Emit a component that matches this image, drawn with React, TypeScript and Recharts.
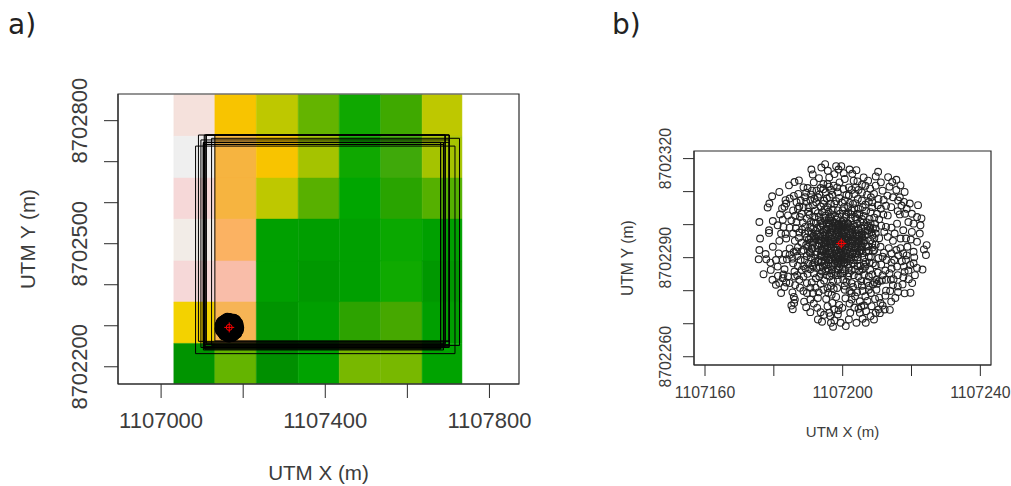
import { ScatterChart, Scatter, XAxis, YAxis, ReferenceArea } from "recharts";

const INK = "#2b2b2b";
const LABEL = "#3c3c3c";

// panel a: image raster
const cellXEdges = [1107031, 1107131, 1107232, 1107334, 1107434, 1107535, 1107636, 1107733];
const cellYEdges = [8702863, 8702762, 8702660, 8702560, 8702458, 8702358, 8702257, 8702159];
const cellColors = [
  ["#f5e1dc", "#f8c400", "#bec800", "#64b400", "#0fa800", "#3fa900", "#bec800"],
  ["#efefef", "#f6b440", "#f8c400", "#a5c300", "#0fa800", "#3fa90a", "#a5c300"],
  ["#f6d8d8", "#f6b440", "#bec800", "#58b000", "#00a600", "#29a400", "#55b000"],
  ["#f2ece7", "#fbb262", "#00a000", "#009e00", "#00a000", "#0aa800", "#00a000"],
  ["#f6d8d8", "#f9bda9", "#009f00", "#009800", "#009f00", "#0faa00", "#009800"],
  ["#f3d200", "#f6b455", "#009400", "#009f00", "#2da300", "#46a800", "#009f00"],
  ["#009400", "#64b400", "#008f00", "#00a300", "#78b800", "#78b800", "#00a300"],
];

// panel a: sampling windows
const windowLeft = [1107084, 1107091, 1107103, 1107107, 1107097, 1107123, 1107105, 1107110, 1107103, 1107131, 1107103, 1107105, 1107107, 1107110, 1107105, 1107103];
const windowRight = [1107716, 1107702, 1107688, 1107692, 1107702, 1107727, 1107681, 1107692, 1107688, 1107702, 1107681, 1107702, 1107681, 1107692, 1107702, 1107688];
const windowTop = [8702738, 8702765, 8702747, 8702765, 8702753, 8702757, 8702742, 8702765, 8702742, 8702765, 8702747, 8702765, 8702747, 8702765, 8702747, 8702742];
const windowBottom = [8702232, 8702262, 8702241, 8702250, 8702247, 8702252, 8702244, 8702258, 8702255, 8702263, 8702260, 8702254, 8702243, 8702256, 8702249, 8702246];

// offsets in metres from the centre point
const outerRing = [
  [-23.8,6.5],[-23.6,1.5],[-23.8,-2],[-24,-4.8],[-22.6,-9.3],[-22,-3.2],[-21.8,-4.8],[-20.6,-5.8],[-21,4],[-21,3.2],
  [-19.9,6.8],[-19.9,-1],[-21.4,10.9],[-20.9,12.1],[-20.1,14.3],[-18,15.6],[-17.2,10.6],[-16.5,11.1],[-16.2,13.1],[-16,12.1],
  [-15.2,17.6],[-13.6,18.6],[-12.3,19.1],[-8.7,22.4],[-8.3,20.9],[-5.8,23],[-4.7,24],[-3.9,22],[-1.5,23.4],[0,23.4],
  [-0.8,22.4],[0.7,21.3],[2.4,22.4],[4.4,22.2],[3.2,21.1],[10.7,21.7],[10,20.3],[13.6,20.1],[16,19.3],[17.2,17.6],
  [18.4,15.6],[19.9,12.1],[22.3,11.6],[23.3,7.6],[22.8,3],[24.8,-0.5],[24.6,-3.5],[23.6,-7.9],[21.4,-9.6],[20.1,-14.9],
  [18.4,-15.1],[14.1,-20.1],[11.2,-21.1],[5.8,-19.1],[7.1,-24],[4.4,-24],[1.3,-25],[-2.4,-25.2],[-6.8,-23],[-5.6,-23.7],
  [-10.2,-19.3],[-14.1,-19.9],[-14.5,-18.8],[-13.7,-18],[-17.5,-15],[-19,-12.5],[-20,-11],[-20.5,-8],[-3,-24],[-2,-23.3],
  [-3.2,-22],[-1,-21.5],[-5,-21.6],[-9,-20.8],[-8,-18.2],[6.2,-22.8],[8.5,-22],[9.5,-23],[10.8,-20],[12,-18.8],
  [14.5,-17.6],[15.7,-16.5],[16.5,-14.7],[-0.2,-24],[0.3,-19.5],[2.2,-23],[24,-1.8],[21,-2.5],[22,0.5],[20.2,1.2],
];
const upperLeft = [
  [-18.5,5.5],[-17,7.2],[-17.5,3],[-18,0.8],[-16,1.5],[-15,4.8],[-15.5,8.5],[-14,10],[-13,12.5],[-12.5,15],
  [-11,17],[-10.5,14],[-11.5,9],[-13,6.5],[-12.2,3.3],[-13.5,0.8],[-11.5,0.2],[-10.5,5],[-10,7.5],[-9.5,11],
  [-9,13.2],[-8.5,16],[-8,18.5],[-6.5,19.8],[-6,16.8],[-6.8,14],[-7.5,10],[-8,6.3],[-8.6,3],[-9.4,1.2],
  [-6.5,8],[-6,11.2],[-5,13],[-4.5,15.5],[-4,18],[-3.5,20],[-2,21],[-2.2,17.5],[-2.6,14.8],[-3,12],
  [-3.7,9.6],[-4.7,7],[-1.5,12.8],[-1,15.5],[-0.5,18.5],[-1,10],[-11,11],[-12,8],[-9.2,8.7],[-7.3,12.5],
  [-5.5,9.5],[-10.2,12.6],[-14.5,7],[-16.8,5],[-14,3],[-10.6,3],[-7,4.8],[-6.6,2.6],[-5.4,5.6],[-4,11],
  [-3.2,8],[-1.8,8.3],[-2.5,10.2],[-7.8,8],[-9,5],[-8.8,14.8],[-7.2,16],[-5.2,18],[-3,16.2],[-4.2,13.6],
  [-11.8,13],[-12.6,10.5],[-16.2,2.9],[-12.3,1.7],[-17.8,8.8],[-15,13.6],[-13.8,14.4],
  [-9.6,9.6],[-8.2,11.6],[-6.8,9.2],[-5.2,12],[-4.6,8.4],[-3.4,14],[-2,12],[-0.6,13.8],[-1.2,17],[-10.2,15.4],
  [-12.2,11.2],[-13.4,8.4],[-8.8,6.6],[-7.4,6.2],[-11.2,6.4],[-10,1.8],[-8.2,4.4],[-6.4,14.8],[-5.2,16.4],[-3.6,17.2],
  [-6,6.8],[-4.8,10.4],[-2.6,6.8],[-9.8,16.8],[-7.8,13.6],[-11.4,4.2],[-9.6,3.8],[-13.2,4.6],
];
const upperRight = [
  [1,19.5],[2.2,17],[1.5,14.7],[2.5,12.3],[3,10],[4,8],[5,10.5],[4.8,13.5],[5,16.2],[4.7,18.8],
  [6.5,20],[7,17.5],[7.5,14.8],[7,11.8],[6.5,8.3],[8.5,9.5],[9,12.5],[9.5,15],[10,17.5],[11.5,18.5],
  [12,16],[12.3,13.2],[11.5,10.5],[11,7.3],[13.5,8.5],[14.5,11],[15,14],[16,16.2],[17,14],[17.5,11.5],
  [17,8.8],[16.2,6],[18.5,9],[19.5,6.5],[20.5,9],[21,6],[18,4],[20.5,3.5],[15.5,3],[13,5],
  [10,4.5],[8.5,6],[13.5,2],[0.6,16.5],[3.8,15],[3.6,19],[6,15.4],[8.4,16.6],[10.8,13.5],[13.4,14.5],
  [14,17.2],[14.8,18.6],[18.2,12.6],[19,10.5],[9.6,7.8],[7.8,4],[5.5,6.6],[2.8,7.6],[1.4,8.7],[0.8,11],
  [1,13],[6,13],[9,11],[10.4,9],[12.5,3.5],[15,0.8],[17.2,1.5],[11,1.6],[9,2.4],[6.8,2.4],
  [22,8],[23,5.5],[18.8,1.5],[16.5,13],[3.4,12],[5.8,4.6],
  [2,9.4],[3.8,10.6],[5.2,8.8],[7.2,9.8],[8.2,7.4],[9.8,6],[8,12.6],[6.2,11],[4,12.2],[2.2,14.6],
  [0.4,10],[0.2,12.4],[3,16.2],[6,17.8],[8.6,14],[10.6,11.6],[10,3],[11.6,5.4],[7.4,6.4],[6.4,6.4],
  [9.2,4.6],[12.2,8.8],[13,11.4],[2,11],[4.2,17],[7.8,19],[14.6,4.8],[16.4,9.8],
];
const lowerLeft = [
  [-18.2,-3],[-17,-5],[-18.5,-7],[-16.5,-7.8],[-15,-3.4],[-15,-1.5],[-14,-6],[-13.6,-8.5],[-15.5,-10],[-17,-10.5],
  [-18,-12],[-16.5,-13.2],[-15,-12],[-14.2,-14.8],[-13.8,-16.2],[-13.5,-17],[-12.2,-11],[-11.5,-8],[-11.8,-5],[-11.6,-2.4],
  [-10,-3.8],[-9.6,-6.2],[-9.8,-9.2],[-10,-12],[-10,-15],[-9,-17],[-7,-19.5],[-6.8,-16.5],[-7.5,-13.4],[-7.4,-10.5],
  [-7.2,-7.4],[-8.4,-1.6],[-7,-2.5],[-6.6,-5],[-5.6,-8.5],[-5,-11.2],[-5.2,-14],[-4.4,-16.8],[-4,-19],[-3.5,-21],
  [-2.6,-18],[-2.8,-15.5],[-3,-12.8],[-3.4,-10],[-1.8,-8.6],[-1,-11],[-1.2,-13.5],[-1.5,-16.2],[-0.6,-18.6],[-12.8,-3.8],
  [-16.2,-3.2],[-12,-13.4],[-8.6,-11.8],[-8.2,-15],[-6,-20.8],[-10.8,-17.6],[-12.6,-6.8],[-8.8,-4.2],[-5,-6.2],[-4,-7.6],
  [-3,-6.8],[-13.4,-12.6],[-19,-5],[-16,-11.8],[-13.5,-10],[-0.8,-20.2],[-2,-20],[-6,-12.2],[-4,-13.5],[-15.8,-4.8],
  [-9,-7.8],[-8,-9],[-6.4,-10],[-4.2,-9.6],[-2.4,-11.4],[-9.2,-2.6],[-10.6,-5],[-11,-6.8],[-12.8,-9.6],[-11,-10],
  [-6.2,-7.2],[-3,-9],[-1,-9.6],[-7.8,-5.8],[-6,-9.2],[-2.2,-13.8],[-3.8,-15],[-6.6,-14.8],[-9,-13.4],[-11,-14.4],
  [-13,-2.4],[-14.2,-4.6],[-10.4,-7.6],[-8.4,-6.6],[-5.6,-3.8],[-4.6,-8.4],[-16.8,-9.4],[-18.4,-9.8],
];
const lowerRight = [
  [0.5,-9],[1.5,-11.6],[1,-14],[1.2,-16.6],[2.4,-18.2],[2.6,-21],[3.8,-19.4],[4,-16],[3.4,-13.2],[3.6,-9.6],
  [5.2,-8.4],[5.8,-11.4],[6.2,-14.4],[7.6,-17.4],[8.8,-19],[7.2,-20.5],[5.4,-21],[8,-12.8],[8,-10],[8.4,-8],
  [10,-6.6],[10.6,-8.8],[10.2,-11],[9.6,-11.8],[9.2,-12.4],[10.4,-12.2],[11,-11.4],[11.8,-11.2],[13,-11],[14.4,-11],
  [15.2,-10.8],[12.8,-8.2],[14.6,-7.6],[16.2,-7],[17.6,-5.4],[19,-3.6],[18.2,-7],[19.5,-8.2],[21,-6],[22,-7.4],
  [16.4,-9.6],[18,-10.2],[17.8,-12.4],[16.4,-13],[13,-14.3],[12.8,-15.8],[14.2,-14.4],[11,-16.4],[11.4,-18],[9.8,-16.8],
  [18.8,-5],[19.6,-10.8],[20.6,-12],[16.6,-3.6],[14.6,-3],[12.4,-2.8],[10.8,-4.4],[8.6,-4],[7,-5.6],[6.2,-3],
  [11.4,-1],[13.2,-5],[15.4,-5],[17.2,-1.4],[19.2,-1],[21.2,-4.2],[5.4,-17.5],[3,-15],[6.6,-18.8],[10,-21],
  [12.6,-20],[8.6,-15],[20,-6.5],[18.4,-8.6],[15,-12.6],[14,-9],
  [2,-10],[3,-12],[5,-10],[6.6,-9.4],[7,-7],[9.2,-6],[11.6,-6.4],[12,-4],[9.6,-2],[13.8,-1.4],
  [1,-12.8],[2.4,-14.4],[4.6,-14.8],[6,-12.8],[0.6,-11],[-0.2,-9],[7.4,-11.6],[9,-9.4],[12,-9.6],[14.6,-5.8],
  [16,-2],[18,-3],[3,-17],[5,-19.8],[8,-14],[7,-16],[4.8,-12.4],[10.2,-14],
];
const innerBand = [
  [-6,5],[-5.2,3.4],[-6.6,1],[-7,-0.6],[-5.6,-2],[-6,-3.6],[-4.8,-5],[-3.4,-5],[-2,-6.2],[-0.6,-7],
  [0.8,-6],[2.2,-7.4],[3.4,-6],[4.6,-5],[5.6,-6.8],[6.6,-4.2],[7.2,-2.6],[6,-1],[7.8,-0.8],[8.4,1],
  [6.8,1],[6,2.8],[7.6,2.8],[5,4.2],[4.6,6],[3.4,5.6],[2,6],[0.6,7],[-0.6,6],[-2,6.4],
  [-3.4,5.6],[-4.4,4.4],[-8,0.6],[-8.6,-1.6],[-7.6,-3.4],[-6.8,-5.6],[-5.4,-7],[-3.6,-8.2],[-1.6,-9.6],[0.4,-7.8],
  [2.2,-9],[4,-7.8],[6.2,-7.8],[8.2,-5.8],[9.2,-2.4],[10,-0.4],[9.6,1.6],[8.8,3.4],[6.8,5.4],[4.4,7.4],
  [1.4,8],[-1,7.8],[-3.2,7],[-5.6,6.2],[-9.6,-1],[-11,-2],[-10.2,-0.4],[-12.6,-1.2],[-13.8,-2.6],[-8.2,-7],
  [-7.6,2],[-8.8,1.6],[-7.4,3.8],[-5,7.8],[-2.8,8.8],[-0.4,9],[2.8,8.8],[4.6,9],[6,7.4],[7.6,5.2],
  [8.4,4.8],[9,0],[8,-2.2],[8,-4],[6.6,-6.4],[4.8,-6.8],[3,-8.2],[1,-8.4],[-1,-8],[-2.6,-7.8],
  [-4.4,-6.6],[-5.8,-5.6],[-7.6,-4.6],[-9,-3],[-9.2,0.2],[-8,2.2],[-3.6,7.6],[-1.4,7.2],[0.4,5.8],[-4.2,6],
];
const dark = [
  [0,0],[0.8,0.4],[-0.8,0.6],[0.4,-0.9],[-0.6,-0.8],[1.5,0.2],[-1.6,0],[0.2,1.6],[-0.2,-1.7],[1.3,1.2],
  [-1.2,1.3],[1.2,-1.3],[-1.4,-1.2],[2.4,0.6],[-2.4,0.5],[0.6,2.5],[-0.6,2.4],[0.5,-2.5],[-0.6,-2.6],[2.2,-1],
  [-2.2,-1.1],[2,1.8],[-2,1.9],[1.8,-2],[-1.8,-2.1],[3.2,0],[-3.2,0],[0,3.3],[0,-3.4],[3,1.3],
  [-3,1.4],[3,-1.4],[-3,-1.5],[1.4,3],[-1.4,3],[1.4,-3],[-1.4,-3.1],[2.6,2.5],[-2.6,2.6],[2.5,-2.6],
  [-2.6,-2.7],[4,0.6],[-4,0.7],[4,-0.8],[-4,-0.9],[0.7,4],[-0.8,4],[0.8,-4.1],[-0.8,-4.1],[3.6,2],
  [-3.6,2.2],[3.6,-2.2],[-3.6,-2.3],[2.1,3.7],[-2.2,3.6],[2.2,-3.7],[-2.3,-3.7],[3.2,3.2],[-3.1,3.3],[3.2,-3.2],
  [-3.2,-3.3],[4.9,0],[-4.9,0],[0,5],[0,-5],[4.7,1.4],[-4.7,1.5],[4.7,-1.5],[-4.7,-1.6],[1.5,4.8],
  [-1.5,4.7],[1.5,-4.8],[-1.6,-4.8],[4.2,2.8],[-4.2,2.8],[4.1,-2.9],[-4.2,-3],[2.9,4.2],[-2.9,4.2],[2.9,-4.2],
  [-3,-4.2],[5.6,0.7],[-5.6,0.8],[5.6,-0.8],[-5.7,-0.8],[0.8,5.7],[-0.8,5.6],[0.8,-5.7],[-0.9,-5.7],[5.2,2.3],
  [-5.2,2.4],[5.2,-2.4],[-5.3,-2.4],[2.4,5.2],[-2.4,5.2],[2.4,-5.2],[-2.5,-5.2],[4.2,4.2],[-4.1,4.1],[4,-4],
  [-4,-4],[6.5,0.2],[-6.4,0.1],[0.2,6.5],[-0.2,-6.4],[6,-2],[-6.1,-1.8],[1.9,6.1],[-1.9,-6.1],[6.1,1.8],
  [-6.1,2.2],[-1.9,6],[1.9,-6.2],[4.9,4],[-5,3.9],[4.8,-4.2],[-4.9,-4],[3.8,5],[-3.9,5],[3.7,-5],
  [-3.8,-5],[7.2,-1],[-7.4,1.4],[-7.2,2.8],[5.8,3.2],[7,3.8],[-3.4,6.3],[-8.4,-0.4],[-5.6,-5.4],[9,-1.2],
  [0.4,1],[-0.4,1.2],[1,-0.4],[-1,-0.3],[1.9,0.9],[-1.9,0.8],[0.9,1.9],[-0.9,2],[1,-2],[-1,-2],
  [2.8,0.2],[-2.8,-0.2],[0.2,2.8],[-0.2,-3],[3.4,0.8],[-3.4,0.8],[0.9,3.5],[-1,3.5],[1,-3.6],[-1,-3.6],
  [4.4,0],[-4.4,0],[0,4.4],[0,-4.5],[3.4,2.8],[-3.4,2.9],[3.4,-2.8],[-3.4,-2.9],[5.2,0.6],[-5.2,0.4],
  [0.5,5.2],[-0.5,5.1],[0.5,-5.2],[-0.5,-5.3],[4.7,2.8],[-4.7,2.8],[4.6,-3],[-4.7,-3],[2.9,4.8],[-2.9,4.8],
  [2.8,-4.8],[-2.9,-4.8],[6,1],[-6,0.8],[1,6],[-1,6],[1,-6],[-1,-6],[5.6,-2],[-5.7,-2.2],
];
const spread = [...outerRing, ...upperLeft, ...upperRight, ...lowerLeft, ...lowerRight, ...innerBand, ...dark];

const centreA = { x: 1107166, y: 8702296 };
const centreB = { x: 1107199.6, y: 8702294.3 };

const blobPoints = spread.map(([dx, dy]) => ({ x: centreA.x + dx, y: centreA.y + dy }));
const pointsB = spread.map(([dx, dy]) => ({ x: centreB.x + dx, y: centreB.y + dy }));

const xTicksA = [1107000, 1107200, 1107400, 1107600, 1107800];
const xLabelsA = [1107000, 1107400, 1107800];
const yTicksA = [8702200, 8702300, 8702400, 8702500, 8702600, 8702700, 8702800];
const yLabelsA = [8702200, 8702500, 8702800];

const xTicksB = [1107160, 1107180, 1107200, 1107220, 1107240];
const xLabelsB = [1107160, 1107200, 1107240];
const yTicksB = [8702260, 8702270, 8702280, 8702290, 8702300, 8702310, 8702320];
const yLabelsB = [8702260, 8702290, 8702320];

const FONT = "'Liberation Sans', Arial, sans-serif";

const xTick = (labels: number[], size: number, dy: number) => (p: any) =>
  labels.includes(p.payload.value) ? (
    <text x={p.x} y={p.y + dy} textAnchor="middle" fontSize={size} fontFamily={FONT} fill={LABEL}>
      {p.payload.value}
    </text>
  ) : (
    <g />
  );

const yTick = (labels: number[], size: number, dx: number) => (p: any) =>
  labels.includes(p.payload.value) ? (
    <text
      x={p.x - dx}
      y={p.y}
      textAnchor="middle"
      fontSize={size}
      fontFamily={FONT}
      fill={LABEL}
      transform={`rotate(-90 ${p.x - dx} ${p.y})`}
    >
      {p.payload.value}
    </text>
  ) : (
    <g />
  );

const ring = (r: number, w: number, color: string) => (p: any) =>
  <circle cx={p.cx} cy={p.cy} r={r} fill="none" stroke={color} strokeWidth={w} />;

const target = (p: any) => (
  <g stroke="#f00" fill="none" strokeWidth={1}>
    <circle cx={p.cx} cy={p.cy} r={3} />
    <line x1={p.cx - 5} x2={p.cx + 5} y1={p.cy} y2={p.cy} />
    <line x1={p.cx} x2={p.cx} y1={p.cy - 5} y2={p.cy + 5} />
  </g>
);

const domainXA = [1106895, 1107872];
const domainYA = [8702158, 8702865];
const domainXB = [1107156.8, 1107243.1];
const domainYB = [8702257.5, 8702322.3];

const heading = (text: string, left: number) => (
  <div
    style={{
      position: "absolute",
      left,
      top: 7,
      fontFamily: "'DejaVu Sans', sans-serif",
      fontSize: 28,
      lineHeight: "36px",
      color: "#222",
    }}
  >
    {text}
  </div>
);

export default function App() {
  return (
    <div style={{ position: "absolute", left: 0, top: 0, width: 1011, height: 486, background: "#fff", overflow: "hidden" }}>
      {heading("a)", 8)}
      {heading("b)", 612)}

      <div style={{ position: "absolute", left: 0, top: 0 }}>
        <ScatterChart width={560} height={486} margin={{ top: 94, right: 41, bottom: 2, left: 18 }}>
          <XAxis
            type="number"
            dataKey="x"
            domain={domainXA}
            ticks={xTicksA}
            interval={0}
            allowDataOverflow
            height={100}
            tickSize={14}
            stroke={INK}
            tick={xTick(xLabelsA, 22, 28)}
            label={{ value: "UTM X (m)", position: "insideBottom", offset: 4, fontSize: 20.6, fontFamily: FONT, fill: LABEL }}
          />
          <YAxis
            type="number"
            dataKey="y"
            domain={domainYA}
            ticks={yTicksA}
            interval={0}
            allowDataOverflow
            width={100}
            tickSize={14}
            stroke={INK}
            tick={yTick(yLabelsA, 22, 15)}
            label={{ value: "UTM Y (m)", angle: -90, position: "insideLeft", offset: 10, dy: 50, fontSize: 20.6, fontFamily: FONT, fill: LABEL }}
          />
          {cellColors.map((row, r) =>
            row.map((color, c) => (
              <ReferenceArea
                key={`${r}-${c}`}
                x1={cellXEdges[c]}
                x2={cellXEdges[c + 1]}
                y1={cellYEdges[r + 1]}
                y2={cellYEdges[r]}
                fill={color}
                fillOpacity={1}
                stroke={color}
                strokeWidth={0.5}
              />
            ))
          )}
          {windowLeft.map((left, i) => (
            <ReferenceArea
              key={i}
              x1={left}
              x2={windowRight[i]}
              y1={windowBottom[i]}
              y2={windowTop[i]}
              fill="none"
              stroke="#000"
              strokeWidth={1}
            />
          ))}
          <ReferenceArea x1={domainXA[0]} x2={domainXA[1]} y1={domainYA[0]} y2={domainYA[1]} fill="none" stroke={INK} strokeWidth={1.2} />
          <Scatter data={blobPoints} isAnimationActive={false} shape={ring(4, 1.6, "#000")} />
          <Scatter data={[centreA]} isAnimationActive={false} shape={target} />
        </ScatterChart>
      </div>

      <div style={{ position: "absolute", left: 580, top: 0 }}>
        <ScatterChart width={431} height={486} margin={{ top: 151, right: 20, bottom: 21, left: 14 }}>
          <XAxis
            type="number"
            dataKey="x"
            domain={domainXB}
            ticks={xTicksB}
            interval={0}
            allowDataOverflow
            height={100}
            tickSize={11}
            stroke={INK}
            tick={xTick(xLabelsB, 15.8, 20)}
            label={{ value: "UTM X (m)", position: "insideBottom", offset: 28, fontSize: 15, fontFamily: FONT, fill: LABEL }}
          />
          <YAxis
            type="number"
            dataKey="y"
            domain={domainYB}
            ticks={yTicksB}
            interval={0}
            allowDataOverflow
            width={100}
            tickSize={11}
            stroke={INK}
            tick={yTick(yLabelsB, 15.8, 10)}
            label={{ value: "UTM Y (m)", angle: -90, position: "insideLeft", offset: 33, dy: 38, fontSize: 15.6, fontFamily: FONT, fill: LABEL }}
          />
          <ReferenceArea x1={domainXB[0]} x2={domainXB[1]} y1={domainYB[0]} y2={domainYB[1]} fill="none" stroke={INK} strokeWidth={1.2} />
          <Scatter data={pointsB} isAnimationActive={false} shape={ring(3.4, 1.1, "#222")} />
          <Scatter data={[centreB]} isAnimationActive={false} shape={target} />
        </ScatterChart>
      </div>
    </div>
  );
}
